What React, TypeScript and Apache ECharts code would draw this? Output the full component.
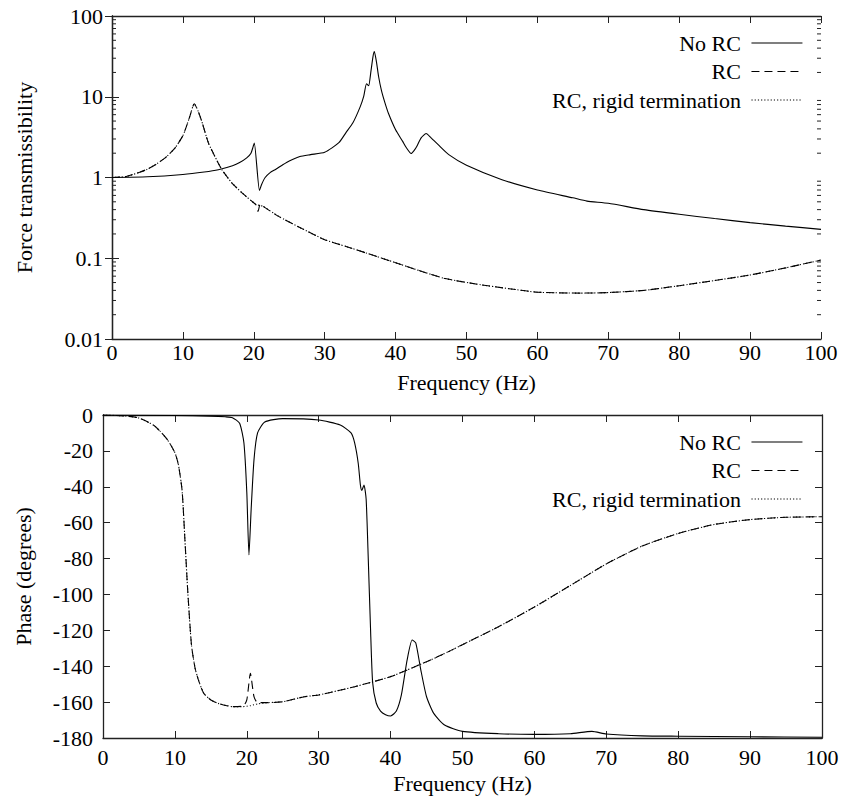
import React, { useEffect, useRef } from 'react';
import * as echarts from 'echarts';

// ---------- Top panel: force transmissibility (log scale) ----------
const noRcTopFreq = [0, 5, 10, 13, 15, 17, 18, 19, 19.6, 19.9, 20.07, 20.8, 21.1, 21.6, 22.3, 23, 24, 25, 26.5, 28, 30, 32, 33, 34, 35, 35.5, 35.9, 36.2, 36.5, 36.8, 37, 37.3, 37.6, 38, 38.5, 39, 40, 41, 41.5, 42.2, 42.6, 43, 43.6, 44.3, 45, 46, 47.5, 50, 55, 60, 65, 67, 70, 75, 80, 85, 90, 95, 100];
const noRcTopMag = [1.0, 1.02, 1.09, 1.17, 1.25, 1.4, 1.53, 1.75, 2.0, 2.4, 2.68, 0.69, 0.82, 1.0, 1.15, 1.25, 1.42, 1.6, 1.82, 1.92, 2.05, 2.7, 3.6, 4.8, 7.5, 10.1, 14.5, 13.7, 20, 31, 36.3, 27, 17.8, 12, 8.4, 6.2, 3.9, 2.8, 2.35, 1.98, 2.15, 2.44, 3.1, 3.5, 3.1, 2.55, 1.92, 1.42, 0.94, 0.7, 0.56, 0.51, 0.48, 0.4, 0.35, 0.31, 0.276, 0.25, 0.228];

const rcTopFreq = [0, 2, 4, 5, 6, 7.5, 8.9, 10, 10.5, 11, 11.6, 12.1, 12.65, 13.6, 14.5, 15.5, 16.9, 18.3, 19.7, 20.3, 20.6, 20.9, 21.3, 23.5, 26.5, 30, 33, 36, 40, 43.4, 47, 52, 56, 60, 66, 70, 75, 80, 85, 90, 95, 100];
const rcTopMag = [1.0, 1.03, 1.17, 1.27, 1.42, 1.75, 2.33, 3.3, 4.3, 5.8, 8.2, 6.8, 5.0, 2.68, 1.83, 1.25, 0.86, 0.65, 0.51, 0.46, 0.38, 0.47, 0.44, 0.33, 0.24, 0.17, 0.14, 0.115, 0.088, 0.07, 0.056, 0.047, 0.042, 0.038, 0.037, 0.0376, 0.04, 0.0457, 0.053, 0.062, 0.076, 0.095];

const rigidTopFreq = [0, 2, 4, 5, 6, 7.5, 8.9, 10, 10.5, 11, 11.6, 12.1, 12.65, 13.6, 14.5, 15.5, 16.9, 18.3, 19.7, 20.3, 20.6, 20.9, 21.3, 23.5, 26.5, 30, 33, 36, 40, 43.4, 47, 52, 56, 60, 66, 70, 75, 80, 85, 90, 95, 100];
const rigidTopMag = [1.0, 1.03, 1.17, 1.27, 1.42, 1.75, 2.33, 3.3, 4.3, 5.8, 8.2, 6.8, 5.0, 2.68, 1.83, 1.25, 0.86, 0.65, 0.51, 0.465, 0.455, 0.45, 0.44, 0.33, 0.24, 0.17, 0.14, 0.115, 0.088, 0.07, 0.056, 0.047, 0.042, 0.038, 0.037, 0.0376, 0.04, 0.0457, 0.053, 0.062, 0.076, 0.095];

const logMinorTicks = [0.02, 0.03, 0.04, 0.05, 0.06, 0.07, 0.08, 0.09, 0.2, 0.3, 0.4, 0.5, 0.6, 0.7, 0.8, 0.9, 2, 3, 4, 5, 6, 7, 8, 9, 20, 30, 40, 50, 60, 70, 80, 90];

// ---------- Bottom panel: phase (degrees) ----------
const noRcPhFreq = [0, 10, 15, 17, 18, 19, 19.6, 20, 20.3, 20.6, 21, 21.5, 22.5, 25, 30, 33, 34.5, 35, 35.5, 35.8, 36, 36.3, 36.6, 36.9, 37.2, 37.5, 38, 38.6, 39.3, 40, 40.8, 41.5, 42.3, 43, 43.5, 44.2, 45, 46, 47.5, 50, 55, 60, 65, 68, 70, 75, 80, 90, 100];
const noRcPh = [0, -0.3, -0.6, -1, -1.5, -4.6, -15.6, -43, -78, -53, -25, -10, -3.9, -2, -2.8, -5.6, -10, -15.6, -27, -39, -42, -39, -47, -81, -118, -149, -160.5, -165, -167, -167.7, -165, -156, -136.5, -125.4, -127, -142, -157, -166.3, -172.8, -176.3, -177.6, -178, -177.6, -176.3, -177.8, -178.8, -179, -179.3, -179.6];

const rcPhFreq = [0, 3, 5, 7, 8, 9, 10, 10.5, 11, 11.4, 11.8, 12.3, 12.8, 13.3, 14, 15, 16, 18, 19.5, 20, 20.5, 21, 21.5, 23, 25, 28, 30, 35, 40, 45, 48, 50, 55, 60, 65, 70, 75, 80, 85, 90, 95, 100];
const rcPh = [0, -0.5, -1.7, -5.6, -9.3, -14, -21, -28, -42, -70, -99, -128, -141, -148, -155, -158.8, -160.7, -162.5, -162.2, -158.8, -144, -157, -160.3, -160.3, -159.8, -157, -156, -151.4, -145.8, -137.5, -132, -128, -118, -107, -95, -83, -73, -66, -61, -58.3, -57, -56.7];

const rigidPhFreq = [0, 3, 5, 7, 8, 9, 10, 10.5, 11, 11.4, 11.8, 12.3, 12.8, 13.3, 14, 15, 16, 18, 19.5, 20, 20.5, 21, 21.5, 23, 25, 28, 30, 35, 40, 45, 48, 50, 55, 60, 65, 70, 75, 80, 85, 90, 95, 100];
const rigidPh = [0, -0.5, -1.7, -5.6, -9.3, -14, -21, -28, -42, -70, -99, -128, -141, -148, -155, -158.8, -160.7, -162.5, -162.5, -162.3, -162, -161.5, -161, -160.3, -159.8, -157, -156, -151.4, -145.8, -137.5, -132, -128, -118, -107, -95, -83, -73, -66, -61, -58.3, -57, -56.7];

const seriesNames = ['No RC', 'RC', 'RC, rigid termination'];

const FONT = "'Liberation Serif', 'DejaVu Serif', serif";
const FS = 22;
const INK = '#000';
const AXIS = '#222';

const pairs = (xs: number[], ys: number[]) => xs.map((x, i) => [x, ys[i]]);

const solid = { color: INK, width: 1.1, type: 'solid' as const };
const dashed = { color: INK, width: 1.1, type: [8, 5] as any };
const dotted = { color: INK, width: 1.1, type: [1.2, 2] as any };

function lineSeries(name: string, data: number[][], xi: number, yi: number, lineStyle: any) {
  return {
    type: 'line',
    name,
    data,
    xAxisIndex: xi,
    yAxisIndex: yi,
    symbol: 'none',
    smooth: 0.2,
    lineStyle,
    itemStyle: { color: INK },
    silent: true,
  };
}

function xAxisDef(grid: number, pos: 'bottom' | 'top', opts: any) {
  const main = pos === 'bottom';
  return {
    gridIndex: grid,
    type: 'value',
    position: pos,
    min: 0,
    max: 100,
    interval: 10,
    name: main ? 'Frequency (Hz)' : '',
    nameLocation: 'middle',
    nameGap: opts.nameGap,
    nameTextStyle: { fontFamily: FONT, fontSize: FS, color: INK },
    axisLine: { show: true, onZero: false, lineStyle: { color: AXIS, width: 1.3 } },
    axisTick: { show: true, inside: true, length: 7, lineStyle: { color: AXIS, width: 1 } },
    axisLabel: { show: main, margin: opts.labelMargin, fontFamily: FONT, fontSize: FS, color: INK },
    splitLine: { show: false },
  };
}

const option: any = {
  animation: false,
  backgroundColor: '#fff',
  textStyle: { fontFamily: FONT, color: INK },
  grid: [
    { left: 112, top: 16, width: 709, height: 323 },
    { left: 103, top: 415, width: 719, height: 323 },
  ],
  legend: [0, 1].map((k) => ({
    data: seriesNames,
    orient: 'vertical',
    right: 43,
    top: k === 0 ? 32 : 431,
    align: 'right',
    padding: 0,
    itemWidth: 51,
    itemHeight: 14,
    itemGap: 6.5,
    selectedMode: false,
    formatter: (n: string) => n + ' ',
    lineStyle: { width: 1.1 },
    itemStyle: { opacity: 0, borderWidth: 0 },
    textStyle: { fontFamily: FONT, fontSize: FS, color: INK },
  })),
  xAxis: [
    xAxisDef(0, 'bottom', { nameGap: 32, labelMargin: 2 }),
    xAxisDef(0, 'top', { nameGap: 0, labelMargin: 2 }),
    xAxisDef(1, 'bottom', { nameGap: 34, labelMargin: 8 }),
    xAxisDef(1, 'top', { nameGap: 0, labelMargin: 2 }),
  ],
  yAxis: [
    {
      gridIndex: 0,
      type: 'log',
      logBase: 10,
      min: 0.01,
      max: 100,
      position: 'left',
      name: 'Force transmissibility',
      nameLocation: 'middle',
      nameGap: 77,
      nameRotate: 90,
      nameTextStyle: { fontFamily: FONT, fontSize: FS, color: INK },
      axisLine: { show: true, lineStyle: { color: AXIS, width: 1.3 } },
      axisTick: { show: true, inside: true, length: 7, lineStyle: { color: AXIS } },
      axisLabel: {
        margin: 9,
        showMinLabel: true,
        showMaxLabel: true,
        fontFamily: FONT,
        fontSize: FS,
        color: INK,
        formatter: (v: number) => String(parseFloat(v.toPrecision(6))),
      },
      splitLine: { show: false },
    },
    {
      gridIndex: 0,
      type: 'log',
      logBase: 10,
      min: 0.01,
      max: 100,
      position: 'right',
      axisLine: { show: true, lineStyle: { color: AXIS, width: 1.3 } },
      axisTick: { show: true, inside: true, length: 7, lineStyle: { color: AXIS } },
      axisLabel: { show: false },
      splitLine: { show: false },
    },
    {
      gridIndex: 1,
      type: 'value',
      min: -180,
      max: 0,
      interval: 20,
      position: 'left',
      name: 'Phase (degrees)',
      nameLocation: 'middle',
      nameGap: 69,
      nameRotate: 90,
      nameTextStyle: { fontFamily: FONT, fontSize: FS, color: INK },
      axisLine: { show: true, onZero: false, lineStyle: { color: AXIS, width: 1.3 } },
      axisTick: { show: true, inside: true, length: 7, lineStyle: { color: AXIS } },
      axisLabel: { margin: 10, fontFamily: FONT, fontSize: FS, color: INK },
      splitLine: { show: false },
    },
    {
      gridIndex: 1,
      type: 'value',
      min: -180,
      max: 0,
      interval: 20,
      position: 'right',
      axisLine: { show: true, onZero: false, lineStyle: { color: AXIS, width: 1.3 } },
      axisTick: { show: true, inside: true, length: 7, lineStyle: { color: AXIS } },
      axisLabel: { show: false },
      splitLine: { show: false },
    },
  ],
  series: [
    lineSeries('No RC', pairs(noRcTopFreq, noRcTopMag), 0, 0, solid),
    lineSeries('RC', pairs(rcTopFreq, rcTopMag), 0, 0, dashed),
    lineSeries('RC, rigid termination', pairs(rigidTopFreq, rigidTopMag), 0, 0, dotted),
    lineSeries('No RC', pairs(noRcPhFreq, noRcPh), 2, 2, solid),
    lineSeries('RC', pairs(rcPhFreq, rcPh), 2, 2, dashed),
    lineSeries('RC, rigid termination', pairs(rigidPhFreq, rigidPh), 2, 2, dotted),
    {
      type: 'custom',
      name: 'minorTicks',
      coordinateSystem: 'cartesian2d',
      xAxisIndex: 0,
      yAxisIndex: 0,
      silent: true,
      clip: false,
      z: 5,
      encode: { x: 0, y: 1 },
      data: logMinorTicks.map((v) => [0, v]),
      renderItem: (_params: any, api: any) => {
        const v = api.value(1);
        const a = api.coord([0, v]);
        const b = api.coord([100, v]);
        const st = { stroke: AXIS, lineWidth: 1 };
        return {
          type: 'group',
          children: [
            { type: 'line', shape: { x1: a[0], y1: a[1], x2: a[0] + 4, y2: a[1] }, style: st },
            { type: 'line', shape: { x1: b[0], y1: b[1], x2: b[0] - 4, y2: b[1] }, style: st },
          ],
        };
      },
    },
  ],
};

export default function App() {
  const ref = useRef<HTMLDivElement>(null);
  useEffect(() => {
    if (!ref.current) return;
    const chart = echarts.init(ref.current, null, { renderer: 'svg' });
    chart.setOption(option);
    return () => chart.dispose();
  }, []);
  return (
    <div
      ref={ref}
      style={{ position: 'fixed', left: 0, top: 0, width: 846, height: 796, background: '#fff' }}
    />
  );
}
